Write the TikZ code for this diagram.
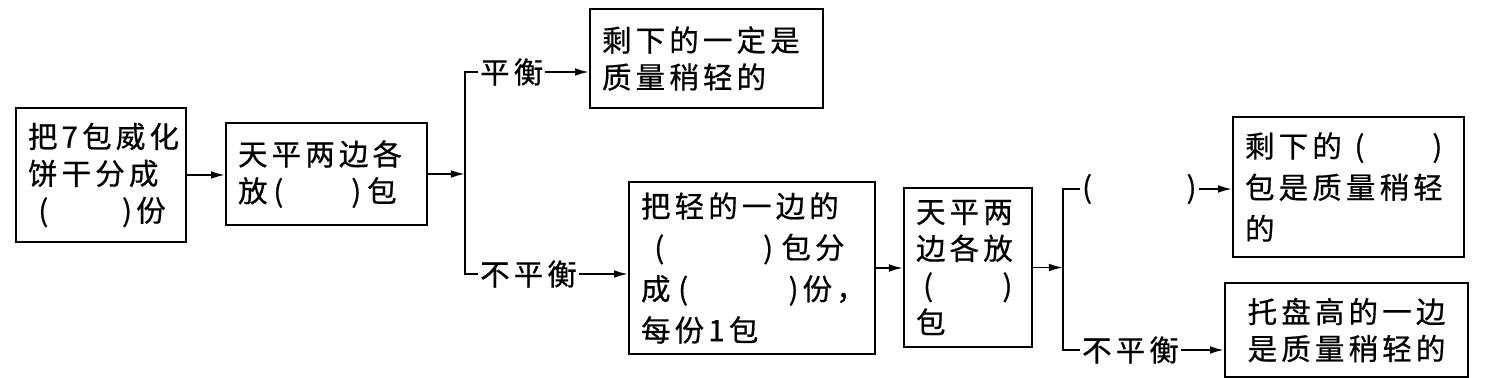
\documentclass[tikz,border=0pt]{standalone}
\usepackage{fontspec}
\usepackage{tikz}
\usetikzlibrary{arrows.meta,positioning}
\newfontfamily\cjk{Noto Sans CJK SC}[LetterSpace=14,FakeBold=0.6]

\begin{document}
\begin{tikzpicture}[x=0.02cm, y=-0.02cm,
    blk/.style={draw, line width=1.1pt, inner xsep=0.24cm, inner ysep=0pt, align=left,
      font=\cjk\fontsize{16.8}{21}\selectfont},
    wide/.style={font=\cjk\fontsize{16.8}{23.5}\selectfont},
    lbl/.style={inner sep=1pt, font=\cjk\fontsize{16.8}{21}\selectfont},
    arr/.style={line width=1.1pt, -{Latex[length=8pt,width=4.4pt]}},
    wire/.style={line width=1.1pt}]
  \useasboundingbox (0,0) rectangle (1488,378);

  % Boxes
  \node[blk, text width=2.92cm, minimum height=2.68cm] (split) at (101,175)
    {把7包威化\\饼干分成\\\hspace*{0.35em}(\hspace{2.5em})份};
  \node[blk, text width=3.54cm, minimum height=2.04cm] (weigh) at (326.5,174)
    {天平两边各\\放\hspace{0.2em}(\hspace{2.3em})\hspace{0.2em}包};
  \node[blk, text width=4.18cm, minimum height=1.98cm] (even) at (706.5,58.5)
    {剩下的一定是\\质量稍轻的};
  \node[blk, wide, text width=4.44cm, minimum height=3.44cm] (regroup) at (752,268)
    {把轻的一边的\\\hspace*{0.45em}(\hspace{3.35em})\hspace{0.28em}包分\\成\hspace{0.26em}(\hspace{3.4em})\hspace{0.14em}份，\\每份1包};
  \node[blk, text width=2.08cm, minimum height=3.18cm] (weighb) at (968,267.5)
    {天平两\\边各放\\\hspace*{0.24em}(\hspace{2.35em})\\包};
  \node[blk, wide, text width=4.14cm, minimum height=2.8cm] (rest) at (1348.5,187)
    {剩下的\hspace{0.43em}(\hspace{2.3em})\\包是质量稍轻\\的};
  \node[blk, align=center, text width=4.38cm, minimum height=1.88cm] (high) at (1346.5,330)
    {托盘高的一边\\是质量稍轻的};

  % First weighing
  \draw[arr] (split.east) -- (split.east -| weigh.west);
  \coordinate (fork) at (465,174);
  \draw[arr] (weigh.east) -- (weigh.east -| fork);
  \node[lbl, anchor=west] (bal) at (478,72) {平衡};
  \node[lbl, anchor=west] (unbal) at (478,274) {不平衡};
  \draw[wire] (bal.west) -| (fork) |- (unbal.west);
  \draw[arr] (bal.east) -- (bal.east -| even.west);
  \draw[arr] (unbal.east) -- (unbal.east -| regroup.west);

  % Second weighing
  \draw[arr] (regroup.east) -- (regroup.east -| weighb.west);
  \coordinate (forkb) at (1063,270);
  \draw[arr] (weighb.east) -- (weighb.east -| forkb);
  \node[lbl, anchor=west] (blank) at (1080,189) {(\hspace{3.2em})};
  \node[lbl, anchor=west] (unbalb) at (1080,350) {不平衡};
  \draw[wire] (blank.west) -| (forkb) |- (unbalb.west);
  \draw[arr] (blank.east) -- (blank.east -| rest.west);
  \draw[arr] (unbalb.east) -- (unbalb.east -| high.west);
\end{tikzpicture}
\end{document}
